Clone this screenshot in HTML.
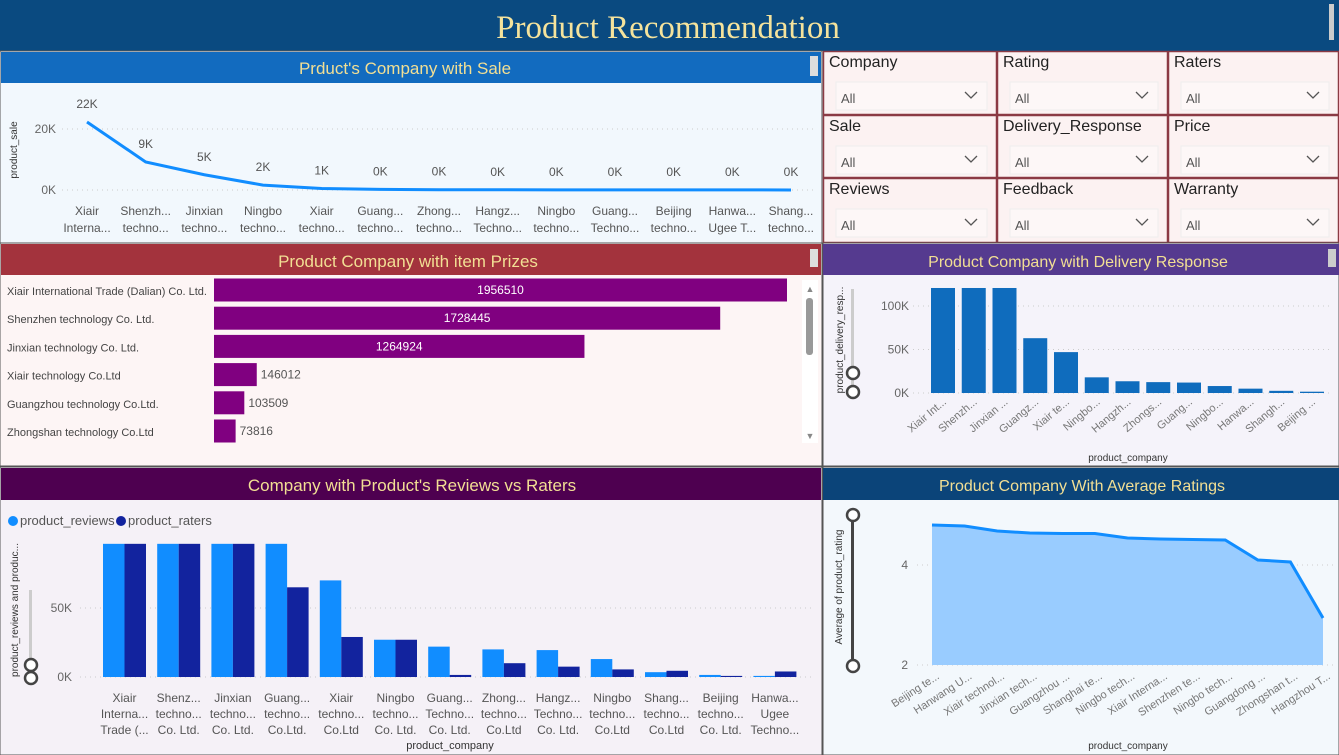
<!DOCTYPE html>
<html><head><meta charset="utf-8">
<style>
html,body{margin:0;padding:0;background:#fff;width:1339px;height:755px;overflow:hidden;}
svg{display:block;font-family:"Liberation Sans",sans-serif;}
.t{font-family:"Liberation Sans Narrow","Liberation Sans",sans-serif;}
</style></head><body>
<svg id="s" width="1339" height="755" viewBox="0 0 1339 755" xmlns="http://www.w3.org/2000/svg">
<!-- header -->
<rect x="0" y="0" width="1339" height="51" fill="#0a4a80"/>
<text x="668" y="38" text-anchor="middle" font-family="Liberation Serif,serif" font-size="33" fill="#f5e39c">Product Recommendation</text>
<rect x="1329" y="4" width="5" height="36" fill="#ccc"/>

<!-- panel 1 -->
<rect x="0" y="51" width="822" height="192" fill="#f2f8fd" stroke="#555" stroke-width="1"/>
<rect x="1" y="52" width="820" height="31" fill="#126bbf"/>
<text x="405" y="74" text-anchor="middle" class="t" font-size="17" fill="#f2df94">Prduct's Company with Sale</text>
<rect x="810" y="56" width="8" height="20" fill="#ddd"/>
<text transform="translate(17,150) rotate(-90)" text-anchor="middle" font-size="10" fill="#333">product_sale</text>
<g id="saleG"></g>

<!-- filters -->
<rect x="823" y="51" width="516" height="192" fill="#fcf2f2"/>
<g id="filtG"></g>

<!-- panel 2 -->
<rect x="0" y="243" width="822" height="223" fill="#fdf5f5" stroke="#555"/>
<rect x="1" y="244" width="820" height="31" fill="#a3333d"/>
<text x="408" y="267" text-anchor="middle" class="t" font-size="17" fill="#f2df94">Product Company with item Prizes</text>
<rect x="810" y="249" width="8" height="18" fill="#ddd"/>
<rect x="802" y="280" width="16" height="163" fill="#fff"/>
<rect x="806" y="298" width="7" height="57" rx="3" fill="#999"/>
<text x="810" y="292" text-anchor="middle" font-size="9" fill="#888">▲</text>
<text x="810" y="439" text-anchor="middle" font-size="9" fill="#888">▼</text>
<g id="prizeG"></g>

<!-- panel 3 -->
<rect x="823" y="243" width="516" height="223" fill="#f5f3fa" stroke="#555"/>
<rect x="823" y="244" width="516" height="31" fill="#553a8f"/>
<text x="1078" y="267" text-anchor="middle" font-size="16" fill="#f2df94">Product Company with Delivery Response</text>
<rect x="1328" y="249" width="8" height="18" fill="#ccc"/>
<text transform="translate(843,340) rotate(-90)" text-anchor="middle" font-size="10" fill="#333">product_delivery_resp...</text>
<rect x="851" y="289" width="3" height="100" fill="#ccc"/>
<circle cx="853" cy="373" r="6" fill="#fff" stroke="#444" stroke-width="2.5"/>
<circle cx="853" cy="392" r="6" fill="#fff" stroke="#444" stroke-width="2.5"/>
<text x="1128" y="461" text-anchor="middle" font-size="10" fill="#333">product_company</text>
<g id="delG"></g>

<!-- panel 4 -->
<rect x="0" y="467" width="822" height="288" fill="#f5f1f7" stroke="#555"/>
<rect x="1" y="468" width="820" height="32" fill="#4e0050"/>
<text x="412" y="491" text-anchor="middle" class="t" font-size="17" fill="#f2df94">Company with Product's Reviews vs Raters</text>
<circle cx="13" cy="521" r="5" fill="#118dff"/>
<text x="20" y="525" class="t" font-size="13" fill="#555">product_reviews</text>
<circle cx="121" cy="521" r="5" fill="#12239e"/>
<text x="128" y="525" class="t" font-size="13" fill="#555">product_raters</text>
<text transform="translate(18,610) rotate(-90)" text-anchor="middle" font-size="10" fill="#333">product_reviews and produc...</text>
<rect x="29" y="590" width="3" height="90" fill="#ccc"/>
<circle cx="31" cy="665" r="6" fill="#fff" stroke="#444" stroke-width="2.5"/>
<circle cx="31" cy="678" r="6" fill="#fff" stroke="#444" stroke-width="2.5"/>
<text x="450" y="749" text-anchor="middle" class="t" font-size="11" fill="#333">product_company</text>
<g id="revG"></g>

<!-- panel 5 -->
<rect x="823" y="467" width="516" height="288" fill="#f3f8fc" stroke="#555"/>
<rect x="823" y="468" width="516" height="32" fill="#0b4479"/>
<text x="1082" y="491" text-anchor="middle" font-size="16" fill="#f2df94">Product Company With Average Ratings</text>
<text transform="translate(842,587) rotate(-90)" text-anchor="middle" font-size="10" fill="#333">Average of product_rating</text>
<rect x="851" y="515" width="3" height="150" fill="#444"/>
<circle cx="853" cy="515" r="6" fill="#fff" stroke="#444" stroke-width="2.5"/>
<circle cx="853" cy="666" r="6" fill="#fff" stroke="#444" stroke-width="2.5"/>
<text x="1128" y="749" text-anchor="middle" font-size="10" fill="#333">product_company</text>
<g id="ratG"></g>
</svg>
<script>
// ---- data ----
const saleCats1 = ["Xiair","Shenzh...","Jinxian","Ningbo","Xiair","Guang...","Zhong...","Hangz...","Ningbo","Guang...","Beijing","Hanwa...","Shang..."];
const saleCats2 = ["Interna...","techno...","techno...","techno...","techno...","techno...","techno...","Techno...","techno...","Techno...","techno...","Ugee T...","techno..."];
const saleValues = [22300, 9200, 5000, 1600, 500, 200, 100, 80, 60, 50, 40, 30, 20];
const saleTicks = [0, 20000];

const prizeCats = ["Xiair International Trade (Dalian) Co. Ltd.","Shenzhen technology Co. Ltd.","Jinxian technology Co. Ltd.","Xiair technology Co.Ltd","Guangzhou technology Co.Ltd.","Zhongshan technology Co.Ltd"];
const prizeValues = [1956510, 1728445, 1264924, 146012, 103509, 73816];

const delCats = ["Xiair Int...","Shenzh...","Jinxian ...","Guangz...","Xiair te...","Ningbo...","Hangzh...","Zhongs...","Guang...","Ningbo...","Hanwa...","Shangh...","Beijing ..."];
const delValues = [120700, 120700, 120700, 63000, 47000, 18000, 13500, 12500, 12000, 8000, 5000, 2500, 1500];
const delTicks = [0, 50000, 100000];

const revCats1 = ["Xiair","Shenz...","Jinxian","Guang...","Xiair","Ningbo","Guang...","Zhong...","Hangz...","Ningbo","Shang...","Beijing","Hanwa..."];
const revCats2 = ["Interna...","techno...","techno...","techno...","techno...","techno...","Techno...","techno...","Techno...","techno...","techno...","techno...","Ugee"];
const revCats3 = ["Trade (...","Co. Ltd.","Co. Ltd.","Co.Ltd.","Co.Ltd","Co. Ltd.","Co. Ltd.","Co.Ltd","Co. Ltd.","Co.Ltd","Co.Ltd","Co. Ltd.","Techno..."];
const revReviews = [96500, 96500, 96500, 96500, 70000, 27000, 22000, 20000, 19500, 13000, 3500, 1500, 800];
const revRaters = [96500, 96500, 96500, 65000, 29000, 27000, 1500, 10000, 7500, 5500, 4500, 800, 4000];
const revTicks = [0, 50000];

const ratCats = ["Beijing te...","Hanwang U...","Xiair technol...","Jinxian tech...","Guangzhou ...","Shanghai te...","Ningbo tech...","Xiair Interna...","Shenzhen te...","Ningbo tech...","Guangdong ...","Zhongshan t...","Hangzhou T..."];
const ratValues = [4.8, 4.78, 4.68, 4.64, 4.63, 4.63, 4.54, 4.52, 4.51, 4.5, 4.1, 4.06, 2.94];
const ratTicks = [2, 4];

const filterNames = ["Company","Rating","Raters","Sale","Delivery_Response","Price","Reviews","Feedback","Warranty"];

// ---- helpers ----
const NS = "http://www.w3.org/2000/svg";
function mk(parent, tag, attrs, txt){
  const e = document.createElementNS(NS, tag);
  for (const k in attrs) e.setAttribute(k, attrs[k]);
  if (txt !== undefined) e.textContent = txt;
  document.getElementById(parent).appendChild(e);
  return e;
}
function kfmt(v){ return Math.round(v/1000) + "K"; }

// ---- sale line chart ----
(function(){
  const x = i => 87 + i * (791 - 87) / (saleValues.length - 1);
  const y = v => 190 - v * (61 / 20000);
  saleTicks.forEach(t => {
    let l = mk("saleG","line",{x1:62,x2:815,y1:y(t),y2:y(t),stroke:"#ccc","stroke-dasharray":"1 4"});
    
    
    let tx = mk("saleG","text",{x:56,y:y(t)+4,"text-anchor":"end","font-size":"12",fill:"#666",class:"t"},kfmt(t));
    
    
  });
  let d = saleValues.map((v,i)=>(i?"L":"M")+x(i)+","+y(v)).join(" ");
  let p = mk("saleG","path",{d:d,fill:"none",stroke:"#118dff","stroke-width":"3"});
  
  
  saleValues.forEach((v,i)=>{
    let lb = mk("saleG","text",{x:x(i),y:Math.min(y(v)-14,180),"text-anchor":"middle","font-size":"12",fill:"#555",class:"t"},kfmt(v));
    
    
    let c1 = mk("saleG","text",{x:x(i),y:215,"text-anchor":"middle","font-size":"12",fill:"#555",class:"t"},saleCats1[i]);
    
    
    let c2 = mk("saleG","text",{x:x(i),y:232,"text-anchor":"middle","font-size":"12",fill:"#555",class:"t"},saleCats2[i]);
    
    
  });
})();

// ---- filters ----
(function(){
  const cols = [823, 997, 1168], colW = [174, 171, 171];
  const rows = [51, 115, 178], rowH = [64, 63, 65];
  filterNames.forEach((n,k)=>{
    const c = k%3, r = Math.floor(k/3);
    const x0 = cols[c], y0 = rows[r];
    let b = mk("filtG","rect",{x:x0+0.5,y:y0+0.5,width:colW[c]-1,height:rowH[r]-1,fill:"#fcf2f2",stroke:"#8b3a44","stroke-width":"1.5"});
    
    
    let t = mk("filtG","text",{x:x0+6,y:y0+16,"font-size":"16",fill:"#222"},n);
    
    
    let dd = mk("filtG","rect",{x:x0+13,y:y0+31,width:colW[c]-23,height:28,fill:"#fdf7f7",stroke:"#eee"});
    
    
    let a = mk("filtG","text",{x:x0+18,y:y0+52,"font-size":"13",fill:"#555"},"All");
    
    
    let ch = mk("filtG","path",{d:`M${x0+colW[c]-32},${y0+41} l6,6 l6,-6`,fill:"none",stroke:"#555","stroke-width":"1.3"});
    
    
  });
})();

// ---- prizes horizontal bars ----
(function(){
  const w = v => v * (573 / 1956510);
  prizeValues.forEach((v,i)=>{
    const yc = 290 + i * 28.2;
    let r = mk("prizeG","rect",{x:214,y:yc-11.5,width:w(v),height:23,fill:"#800080"});
    
    
    let c = mk("prizeG","text",{x:7,y:yc+5,"font-size":"11",fill:"#444",class:"t"},prizeCats[i]);
    
    
    const inside = w(v) > 100;
    let l = mk("prizeG","text",{x:inside?214+w(v)/2:214+w(v)+4,y:yc+4,"text-anchor":inside?"middle":"start","font-size":"12",fill:inside?"#fff":"#555",class:"t"},String(v));
    
    
  });
})();

// ---- delivery column chart ----
(function(){
  const y = v => 393 - v * (87 / 100000);
  const x = i => 931 + i * 30.75;
  delTicks.forEach(t=>{
    let l = mk("delG","line",{x1:913,x2:1330,y1:y(t),y2:y(t),stroke:"#ccc","stroke-dasharray":"1 4"});
    
    
    let tx = mk("delG","text",{x:909,y:y(t)+4,"text-anchor":"end","font-size":"12",fill:"#666"},kfmt(t));
    
    
  });
  delValues.forEach((v,i)=>{
    let r = mk("delG","rect",{x:x(i),y:y(v),width:24,height:393-y(v),fill:"#0f6cbd"});
    
    
    let t = mk("delG","text",{transform:`translate(${x(i)+16},${403}) rotate(-40)`,"text-anchor":"end","font-size":"11",fill:"#777"},delCats[i]);
    
    
  });
})();

// ---- reviews vs raters ----
(function(){
  const y = v => 677 - v * (69 / 50000);
  const x = i => 103 + i * 54.2;
  revTicks.forEach(t=>{
    let l = mk("revG","line",{x1:80,x2:815,y1:y(t),y2:y(t),stroke:"#ccc","stroke-dasharray":"1 4"});
    
    
    let tx = mk("revG","text",{x:72,y:y(t)+4,"text-anchor":"end","font-size":"12",fill:"#666",class:"t"},kfmt(t));
    
    
  });
  revReviews.forEach((v,i)=>{
    let r = mk("revG","rect",{x:x(i),y:y(v),width:21.5,height:677-y(v),fill:"#118dff"});
    
    
    const v2 = revRaters[i];
    let r2 = mk("revG","rect",{x:x(i)+21.5,y:y(v2),width:21.5,height:677-y(v2),fill:"#12239e"});
    
    
    const cx = x(i)+21.5;
    [revCats1,revCats2,revCats3].forEach((arr,k)=>{
      let t = mk("revG","text",{x:cx,y:702+k*16,"text-anchor":"middle","font-size":"12",fill:"#555",class:"t"},arr[i]);
      
      
    });
  });
})();

// ---- ratings area ----
(function(){
  const y = v => 665 - (v - 2) * 50;
  const x = i => 932 + i * (1323 - 932) / (ratValues.length - 1);
  ratTicks.forEach(t=>{
    let l = mk("ratG","line",{x1:917,x2:1335,y1:y(t),y2:y(t),stroke:"#ccc","stroke-dasharray":"1 4"});
    
    
    let tx = mk("ratG","text",{x:908,y:y(t)+4,"text-anchor":"end","font-size":"12",fill:"#666"},String(t));
    
    
  });
  const pts = ratValues.map((v,i)=>x(i)+","+y(v));
  let a = mk("ratG","path",{d:`M${x(0)},${y(2)} L${pts.join(" L")} L${x(ratValues.length-1)},${y(2)} Z`,fill:"#99ccff"});
  
  
  let l = mk("ratG","path",{d:"M"+pts.join(" L"),fill:"none",stroke:"#118dff","stroke-width":"3"});
  
  
  ratCats.forEach((c,i)=>{
    let t = mk("ratG","text",{transform:`translate(${x(i)+8},${678}) rotate(-33)`,"text-anchor":"end","font-size":"11",fill:"#777"},c);
    
    
  });
})();
</script>
</body></html>
